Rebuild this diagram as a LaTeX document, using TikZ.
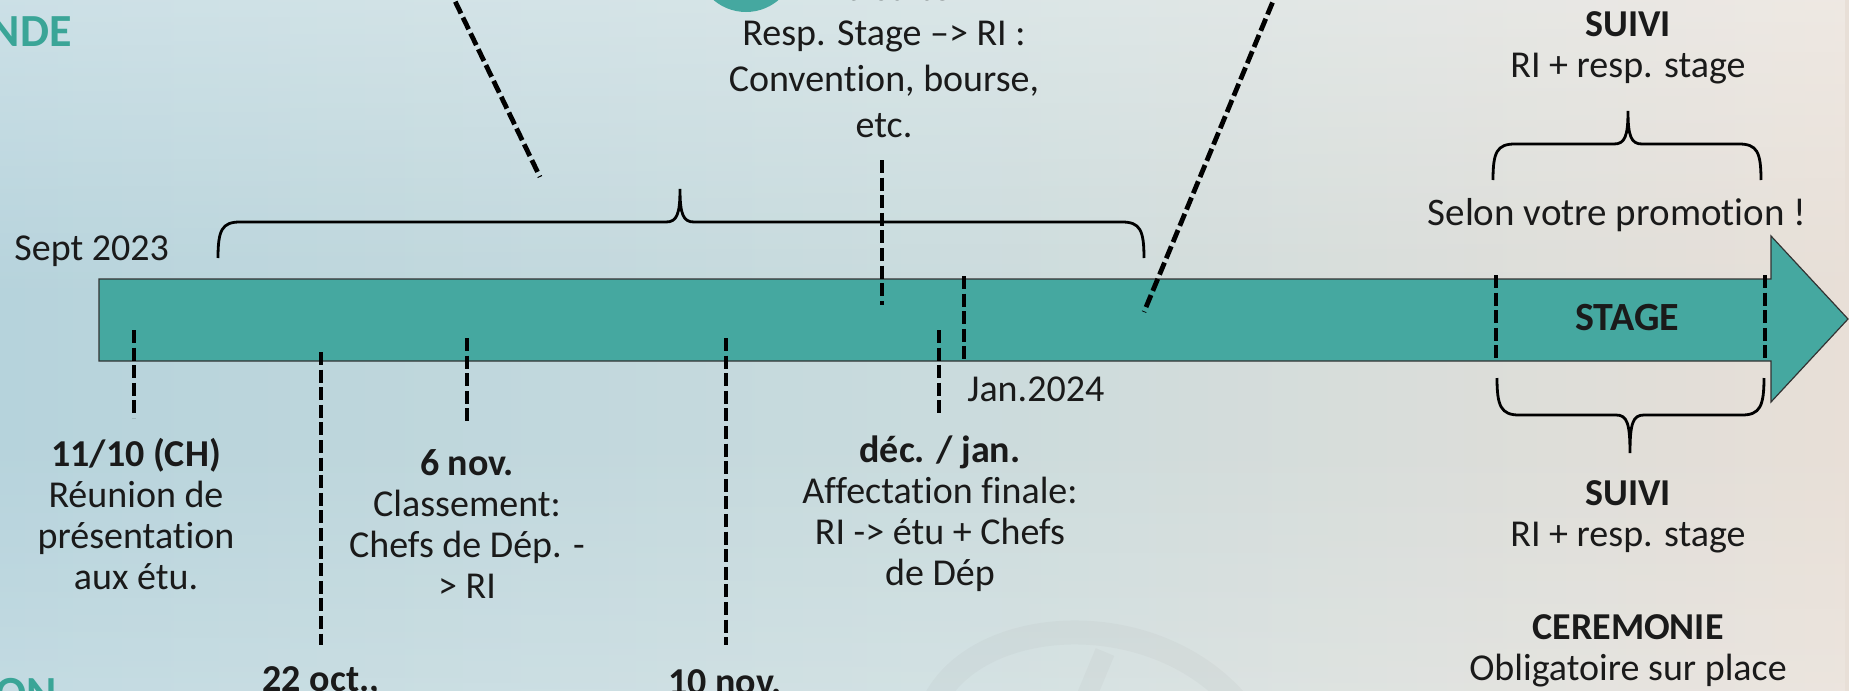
\documentclass[tikz,border=0pt]{standalone}
\usepackage{fontspec}
\setmainfont[Ligatures={NoCommon,NoContextual,NoRequired}]{Carlito}
\usetikzlibrary{fadings}
\definecolor{tealbar}{HTML}{45A8A0}
\definecolor{tealtxt}{HTML}{3AA597}
\definecolor{ink}{HTML}{1A1A1A}
\definecolor{bgL}{HTML}{B6D3DC}
\definecolor{bgM}{HTML}{C9DBDD}
\definecolor{bgR}{HTML}{E8DFD7}
\newcommand\nolig{\kern0pt }
\begin{document}
\begin{tikzpicture}[x=0.5pt,y=-0.5pt,
  txt/.style={font=\fontsize{19}{20.5}\selectfont, text=ink, align=center, inner sep=0pt},
  ttl/.style={font=\fontsize{23}{25}\selectfont\bfseries, text=tealtxt, inner sep=0pt},
  tick/.style={line width=2.2pt, dash pattern=on 6.5pt off 2.3pt, draw=black},
  brc/.style={line width=1.4pt, draw=black},
]
\useasboundingbox (0,0) rectangle (1849,691);
\shade[left color=bgL, right color=bgR, middle color=bgM] (0,0) rectangle (1849,691);
\fill[white, opacity=0.3, path fading=south] (0,0) rectangle (1849,300);
\fill[white, opacity=0.18, path fading=north] (0,430) rectangle (1849,691);
% watermark
\draw[gray!80, opacity=0.08, line width=12pt] (935,700) .. controls (980,615) and (1150,605) .. (1235,700);
\draw[gray!80, opacity=0.08, line width=10pt] (1105,652) -- (1085,700);

% timeline arrow
\draw[fill=tealbar, draw=black!80, line width=0.6pt]
  (99,279) -- (1771,279) -- (1771,236) -- (1848,319) -- (1771,402) -- (1771,361) -- (99,361) -- cycle;
\node[txt, font=\fontsize{20}{22}\selectfont\bfseries] (stage) at (1627,318) {STAGE};

% partially visible titles
\node[ttl, anchor=east] (tA) at (72,32) {NDE};
\node[ttl, anchor=east] (tB) at (57,694) {ON};
\fill[tealbar] (746,-38) circle (50);
\node[txt, font=\fontsize{19}{21}\selectfont\bfseries, anchor=base] (suite) at (879,0) {A la suite};

% diagonals
\coordinate (dL1) at (440,-30); \coordinate (dL2) at (540,177);
\coordinate (dR1) at (1286,-30); \coordinate (dR2) at (1144,312);
\draw[tick, line width=2.4pt] (dL1) -- (dL2);
\draw[tick, line width=2.4pt] (dR1) -- (dR2);

% ticks
\coordinate (a1) at (134,330); \coordinate (b1) at (134,418);
\coordinate (a2) at (321,352); \coordinate (b2) at (321,645);
\coordinate (a3) at (467,338); \coordinate (b3) at (467,425);
\coordinate (a4) at (726,338); \coordinate (b4) at (726,645);
\coordinate (a5) at (882,160); \coordinate (b5) at (882,305);
\coordinate (a6) at (939,330); \coordinate (b6) at (939,415);
\coordinate (a7) at (964,276); \coordinate (b7) at (964,362);
\coordinate (a8) at (1496,275); \coordinate (b8) at (1496,362);
\coordinate (a9) at (1765,275); \coordinate (b9) at (1765,362);
\foreach \i in {1,...,9} { \draw[tick] (a\i) -- (b\i); }

% braces
\draw[brc] (218,258) .. controls (218,230) and (222,222) .. (240,222) -- (666,222)
  .. controls (677,222) and (680,214) .. (680,189) .. controls (680,214) and (683,222) .. (694,222)
  -- (1122,222) .. controls (1140,222) and (1144,230) .. (1144,258);
\draw[brc] (1493,180) .. controls (1493,152) and (1497,144) .. (1515,144) -- (1614,144)
  .. controls (1625,144) and (1628,136) .. (1628,111) .. controls (1628,136) and (1631,144) .. (1642,144)
  -- (1739,144) .. controls (1757,144) and (1761,152) .. (1761,180);
\draw[brc] (1497,378) .. controls (1497,406) and (1501,415) .. (1519,415) -- (1616,415)
  .. controls (1627,415) and (1630,423) .. (1630,453) .. controls (1630,423) and (1633,415) .. (1644,415)
  -- (1742,415) .. controls (1760,415) and (1764,406) .. (1764,378);

% texts
\node[txt, anchor=west] (sept) at (14,251) {Sept 2023};
\node[txt] (e1) at (136,514) {\textbf{11/10 (CH)}\\Réunion de\\présentat\nolig ion\\aux étu.};
\node[txt] (e3) at (467,524) {\textbf{6 nov.}\\Classement:\\Chefs de Dép. -\\> RI};
\node[txt] (e6) at (940,514) {\textbf{déc. / jan.}\\Affectat\nolig ion f\nolig inale:\\RI -> étu + Chefs\\de Dép};
\node[txt, anchor=west] (jan) at (967,389) {Jan.2024};
\node[txt, font=\fontsize{19}{23}\selectfont] (e5) at (884,79) {Resp. Stage –> RI :\\Convent\nolig ion, bourse,\\etc.};
\node[txt] (e2) at (321,682) {\textbf{22 oct.,}};
\node[txt] (e4) at (725,682) {\textbf{10 nov.}};
\node[txt] (s1) at (1628,48) {\textbf{SUIVI}\\RI + resp. stage};
\node[txt, font=\fontsize{19.5}{22}\selectfont] (selon) at (1617,215) {Selon votre promot\nolig ion !};
\node[txt] (s2) at (1628,517) {\textbf{SUIVI}\\RI + resp. stage};
\node[txt] (cer) at (1628,651) {\textbf{CEREMONIE}\\Obligatoire sur place};
\end{tikzpicture}
\end{document}
